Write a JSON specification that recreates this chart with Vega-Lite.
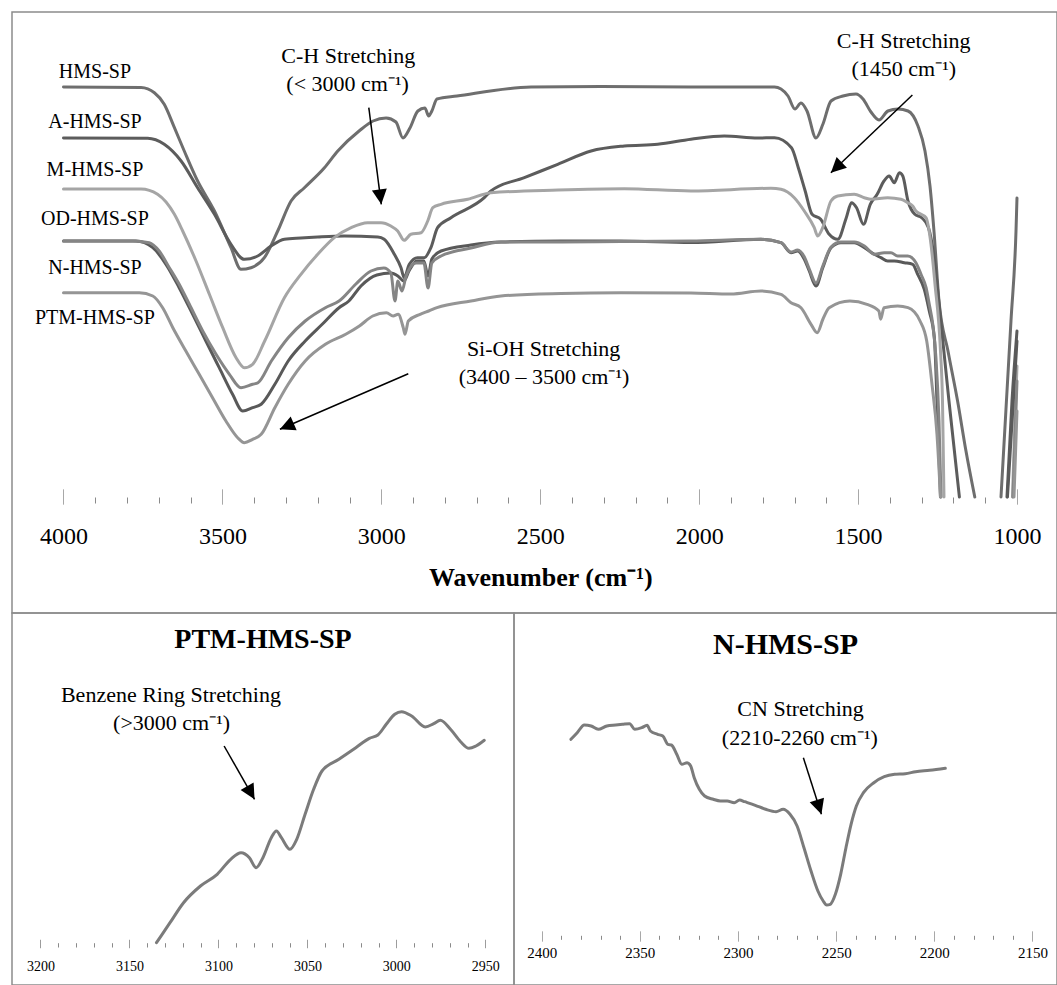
{
  "$schema": "https://vega.github.io/schema/vega-lite/v6.json",
  "description": "FTIR spectra of HMS-SP and its functionalised derivatives, with enlarged regions for PTM-HMS-SP and N-HMS-SP.",
  "background": "white",
  "padding": {"left": 11, "top": 11, "right": 0, "bottom": 0},
  "autosize": {"type": "pad"},
  "bounds": "flush",
  "spacing": 0,
  "config": {
    "view": {"stroke": "#8c8c8c", "strokeWidth": 1.5},
    "font": "Liberation Serif",
    "concat": {"spacing": 0}
  },
  "datasets": {
    "ftir": [
      {"sample":"HMS-SP","seg":1,"wn":4000,"T":410},{"sample":"HMS-SP","seg":1,"wn":3756,"T":409.5},{"sample":"HMS-SP","seg":1,"wn":3714,"T":404.3},{"sample":"HMS-SP","seg":1,"wn":3683,"T":392.7},{"sample":"HMS-SP","seg":1,"wn":3651,"T":369.3},{"sample":"HMS-SP","seg":1,"wn":3620,"T":346},{"sample":"HMS-SP","seg":1,"wn":3578,"T":316},{"sample":"HMS-SP","seg":1,"wn":3525,"T":286},{"sample":"HMS-SP","seg":1,"wn":3473,"T":249.3},{"sample":"HMS-SP","seg":1,"wn":3441.5,"T":227.7},{"sample":"HMS-SP","seg":1,"wn":3410,"T":229.3},{"sample":"HMS-SP","seg":1,"wn":3368,"T":239.3},{"sample":"HMS-SP","seg":1,"wn":3326,"T":266},{"sample":"HMS-SP","seg":1,"wn":3284,"T":296},{"sample":"HMS-SP","seg":1,"wn":3242,"T":309.3},{"sample":"HMS-SP","seg":1,"wn":3179,"T":329.3},{"sample":"HMS-SP","seg":1,"wn":3137,"T":346},{"sample":"HMS-SP","seg":1,"wn":3070,"T":366},{"sample":"HMS-SP","seg":1,"wn":3026,"T":376},{"sample":"HMS-SP","seg":1,"wn":2985,"T":379},{"sample":"HMS-SP","seg":1,"wn":2954,"T":375},{"sample":"HMS-SP","seg":1,"wn":2932,"T":359},{"sample":"HMS-SP","seg":1,"wn":2910,"T":369},{"sample":"HMS-SP","seg":1,"wn":2885,"T":386},{"sample":"HMS-SP","seg":1,"wn":2863,"T":389},{"sample":"HMS-SP","seg":1,"wn":2851,"T":381},{"sample":"HMS-SP","seg":1,"wn":2841,"T":386},{"sample":"HMS-SP","seg":1,"wn":2825,"T":398},{"sample":"HMS-SP","seg":1,"wn":2762,"T":401},{"sample":"HMS-SP","seg":1,"wn":2529,"T":410},{"sample":"HMS-SP","seg":1,"wn":2309,"T":410.5},{"sample":"HMS-SP","seg":1,"wn":2026,"T":410},{"sample":"HMS-SP","seg":1,"wn":1868,"T":410},{"sample":"HMS-SP","seg":1,"wn":1763,"T":410},{"sample":"HMS-SP","seg":1,"wn":1742.5,"T":408},{"sample":"HMS-SP","seg":1,"wn":1720.5,"T":401},{"sample":"HMS-SP","seg":1,"wn":1698.5,"T":388},{"sample":"HMS-SP","seg":1,"wn":1679.6,"T":394},{"sample":"HMS-SP","seg":1,"wn":1660.7,"T":386},{"sample":"HMS-SP","seg":1,"wn":1632.4,"T":359},{"sample":"HMS-SP","seg":1,"wn":1610.4,"T":373},{"sample":"HMS-SP","seg":1,"wn":1585.2,"T":396},{"sample":"HMS-SP","seg":1,"wn":1547.5,"T":401},{"sample":"HMS-SP","seg":1,"wn":1506.6,"T":403},{"sample":"HMS-SP","seg":1,"wn":1484.5,"T":398},{"sample":"HMS-SP","seg":1,"wn":1459.4,"T":385},{"sample":"HMS-SP","seg":1,"wn":1434.2,"T":377},{"sample":"HMS-SP","seg":1,"wn":1405.9,"T":386},{"sample":"HMS-SP","seg":1,"wn":1374.4,"T":388},{"sample":"HMS-SP","seg":1,"wn":1342.9,"T":386},{"sample":"HMS-SP","seg":1,"wn":1311.5,"T":371},{"sample":"HMS-SP","seg":1,"wn":1289.5,"T":346},{"sample":"HMS-SP","seg":1,"wn":1273.7,"T":311},{"sample":"HMS-SP","seg":1,"wn":1261.2,"T":266},{"sample":"HMS-SP","seg":1,"wn":1245.4,"T":196},{"sample":"HMS-SP","seg":1,"wn":1217.1,"T":146},{"sample":"HMS-SP","seg":1,"wn":1186.9,"T":96},{"sample":"HMS-SP","seg":1,"wn":1160.5,"T":46},{"sample":"HMS-SP","seg":1,"wn":1132.8,"T":0},
      {"sample":"HMS-SP","seg":2,"wn":1050.3,"T":0},{"sample":"HMS-SP","seg":2,"wn":1034.6,"T":88},{"sample":"HMS-SP","seg":2,"wn":1018.9,"T":176},{"sample":"HMS-SP","seg":2,"wn":1003.1,"T":266},{"sample":"HMS-SP","seg":2,"wn":1000,"T":299},

      {"sample":"A-HMS-SP","seg":1,"wn":4000,"T":359},{"sample":"A-HMS-SP","seg":1,"wn":3735,"T":358.7},{"sample":"A-HMS-SP","seg":1,"wn":3683,"T":352.7},{"sample":"A-HMS-SP","seg":1,"wn":3630,"T":336},{"sample":"A-HMS-SP","seg":1,"wn":3578,"T":309.3},{"sample":"A-HMS-SP","seg":1,"wn":3525,"T":282.7},{"sample":"A-HMS-SP","seg":1,"wn":3473,"T":252.7},{"sample":"A-HMS-SP","seg":1,"wn":3431,"T":237.7},{"sample":"A-HMS-SP","seg":1,"wn":3389,"T":241},{"sample":"A-HMS-SP","seg":1,"wn":3347,"T":251},{"sample":"A-HMS-SP","seg":1,"wn":3305,"T":257.7},{"sample":"A-HMS-SP","seg":1,"wn":3253,"T":259},{"sample":"A-HMS-SP","seg":1,"wn":3200,"T":260},{"sample":"A-HMS-SP","seg":1,"wn":3116.5,"T":261},{"sample":"A-HMS-SP","seg":1,"wn":3011,"T":260},{"sample":"A-HMS-SP","seg":1,"wn":2991,"T":257.7},{"sample":"A-HMS-SP","seg":1,"wn":2959,"T":242.7},{"sample":"A-HMS-SP","seg":1,"wn":2938,"T":229.3},{"sample":"A-HMS-SP","seg":1,"wn":2928,"T":219.3},{"sample":"A-HMS-SP","seg":1,"wn":2912,"T":232.7},{"sample":"A-HMS-SP","seg":1,"wn":2886,"T":239.3},{"sample":"A-HMS-SP","seg":1,"wn":2865,"T":239.3},{"sample":"A-HMS-SP","seg":1,"wn":2844,"T":249.3},{"sample":"A-HMS-SP","seg":1,"wn":2823,"T":269.3},{"sample":"A-HMS-SP","seg":1,"wn":2781,"T":279.3},{"sample":"A-HMS-SP","seg":1,"wn":2676,"T":299.3},{"sample":"A-HMS-SP","seg":1,"wn":2655,"T":306},{"sample":"A-HMS-SP","seg":1,"wn":2550,"T":319.3},{"sample":"A-HMS-SP","seg":1,"wn":2445,"T":332.7},{"sample":"A-HMS-SP","seg":1,"wn":2340,"T":346},{"sample":"A-HMS-SP","seg":1,"wn":2235.5,"T":351},{"sample":"A-HMS-SP","seg":1,"wn":2130.5,"T":352.7},{"sample":"A-HMS-SP","seg":1,"wn":2026,"T":357.7},{"sample":"A-HMS-SP","seg":1,"wn":1921,"T":361},{"sample":"A-HMS-SP","seg":1,"wn":1815,"T":359},{"sample":"A-HMS-SP","seg":1,"wn":1763,"T":359.3},{"sample":"A-HMS-SP","seg":1,"wn":1709.5,"T":349.3},{"sample":"A-HMS-SP","seg":1,"wn":1688,"T":329.3},{"sample":"A-HMS-SP","seg":1,"wn":1666.4,"T":306},{"sample":"A-HMS-SP","seg":1,"wn":1644.7,"T":282.7},{"sample":"A-HMS-SP","seg":1,"wn":1617.6,"T":277.7},{"sample":"A-HMS-SP","seg":1,"wn":1590.9,"T":262.7},{"sample":"A-HMS-SP","seg":1,"wn":1563.8,"T":257.7},{"sample":"A-HMS-SP","seg":1,"wn":1537.1,"T":279.3},{"sample":"A-HMS-SP","seg":1,"wn":1520.7,"T":294.3},{"sample":"A-HMS-SP","seg":1,"wn":1504.7,"T":289.3},{"sample":"A-HMS-SP","seg":1,"wn":1483,"T":272.7},{"sample":"A-HMS-SP","seg":1,"wn":1461.6,"T":292.7},{"sample":"A-HMS-SP","seg":1,"wn":1439.9,"T":302.7},{"sample":"A-HMS-SP","seg":1,"wn":1418.5,"T":316},{"sample":"A-HMS-SP","seg":1,"wn":1402.1,"T":321},{"sample":"A-HMS-SP","seg":1,"wn":1386.1,"T":314.3},{"sample":"A-HMS-SP","seg":1,"wn":1370,"T":324.3},{"sample":"A-HMS-SP","seg":1,"wn":1359.3,"T":321},{"sample":"A-HMS-SP","seg":1,"wn":1342.9,"T":296},{"sample":"A-HMS-SP","seg":1,"wn":1321.5,"T":282.7},{"sample":"A-HMS-SP","seg":1,"wn":1299.8,"T":279.3},{"sample":"A-HMS-SP","seg":1,"wn":1278.5,"T":269.3},{"sample":"A-HMS-SP","seg":1,"wn":1256.8,"T":229.3},{"sample":"A-HMS-SP","seg":1,"wn":1246,"T":196},{"sample":"A-HMS-SP","seg":1,"wn":1214,"T":96},{"sample":"A-HMS-SP","seg":1,"wn":1181.2,"T":0},
      {"sample":"A-HMS-SP","seg":2,"wn":1031.5,"T":0},{"sample":"A-HMS-SP","seg":2,"wn":1015.7,"T":96},{"sample":"A-HMS-SP","seg":2,"wn":1000,"T":166},

      {"sample":"M-HMS-SP","seg":1,"wn":4000,"T":308},{"sample":"M-HMS-SP","seg":1,"wn":3756,"T":308},{"sample":"M-HMS-SP","seg":1,"wn":3704,"T":302.7},{"sample":"M-HMS-SP","seg":1,"wn":3651,"T":282.7},{"sample":"M-HMS-SP","seg":1,"wn":3625,"T":266},{"sample":"M-HMS-SP","seg":1,"wn":3583,"T":236},{"sample":"M-HMS-SP","seg":1,"wn":3541,"T":202.7},{"sample":"M-HMS-SP","seg":1,"wn":3499,"T":169.3},{"sample":"M-HMS-SP","seg":1,"wn":3457,"T":139.3},{"sample":"M-HMS-SP","seg":1,"wn":3431,"T":129.3},{"sample":"M-HMS-SP","seg":1,"wn":3405,"T":132.7},{"sample":"M-HMS-SP","seg":1,"wn":3367,"T":156},{"sample":"M-HMS-SP","seg":1,"wn":3305,"T":199.3},{"sample":"M-HMS-SP","seg":1,"wn":3253,"T":222.7},{"sample":"M-HMS-SP","seg":1,"wn":3200,"T":242.7},{"sample":"M-HMS-SP","seg":1,"wn":3148,"T":259.3},{"sample":"M-HMS-SP","seg":1,"wn":3095,"T":269.3},{"sample":"M-HMS-SP","seg":1,"wn":3043,"T":274.3},{"sample":"M-HMS-SP","seg":1,"wn":3001,"T":274.3},{"sample":"M-HMS-SP","seg":1,"wn":2970,"T":271},{"sample":"M-HMS-SP","seg":1,"wn":2948.5,"T":266},{"sample":"M-HMS-SP","seg":1,"wn":2928,"T":256.7},{"sample":"M-HMS-SP","seg":1,"wn":2907,"T":262.7},{"sample":"M-HMS-SP","seg":1,"wn":2875,"T":264.3},{"sample":"M-HMS-SP","seg":1,"wn":2854,"T":276},{"sample":"M-HMS-SP","seg":1,"wn":2838,"T":289.3},{"sample":"M-HMS-SP","seg":1,"wn":2812,"T":292.7},{"sample":"M-HMS-SP","seg":1,"wn":2728,"T":297.7},{"sample":"M-HMS-SP","seg":1,"wn":2655,"T":304.3},{"sample":"M-HMS-SP","seg":1,"wn":2444,"T":307},{"sample":"M-HMS-SP","seg":1,"wn":2235.5,"T":308.3},{"sample":"M-HMS-SP","seg":1,"wn":2026,"T":306},{"sample":"M-HMS-SP","seg":1,"wn":1774,"T":308.7},{"sample":"M-HMS-SP","seg":1,"wn":1742.5,"T":307.7},{"sample":"M-HMS-SP","seg":1,"wn":1700.7,"T":299.3},{"sample":"M-HMS-SP","seg":1,"wn":1669.2,"T":286},{"sample":"M-HMS-SP","seg":1,"wn":1637.8,"T":269.3},{"sample":"M-HMS-SP","seg":1,"wn":1627.1,"T":261},{"sample":"M-HMS-SP","seg":1,"wn":1611.3,"T":269.3},{"sample":"M-HMS-SP","seg":1,"wn":1585.2,"T":296},{"sample":"M-HMS-SP","seg":1,"wn":1564.1,"T":301},{"sample":"M-HMS-SP","seg":1,"wn":1511.9,"T":302.7},{"sample":"M-HMS-SP","seg":1,"wn":1480.4,"T":299.3},{"sample":"M-HMS-SP","seg":1,"wn":1459.4,"T":297.7},{"sample":"M-HMS-SP","seg":1,"wn":1406.8,"T":299.3},{"sample":"M-HMS-SP","seg":1,"wn":1365,"T":297.7},{"sample":"M-HMS-SP","seg":1,"wn":1343.9,"T":294.3},{"sample":"M-HMS-SP","seg":1,"wn":1328.2,"T":291},{"sample":"M-HMS-SP","seg":1,"wn":1317.8,"T":286},{"sample":"M-HMS-SP","seg":1,"wn":1302,"T":282.7},{"sample":"M-HMS-SP","seg":1,"wn":1286.3,"T":279.3},{"sample":"M-HMS-SP","seg":1,"wn":1270.6,"T":252.7},{"sample":"M-HMS-SP","seg":1,"wn":1258,"T":213},{"sample":"M-HMS-SP","seg":1,"wn":1240.7,"T":146},{"sample":"M-HMS-SP","seg":1,"wn":1234.4,"T":96},{"sample":"M-HMS-SP","seg":1,"wn":1229.7,"T":0},
      {"sample":"M-HMS-SP","seg":2,"wn":1014.2,"T":0},{"sample":"M-HMS-SP","seg":2,"wn":1006.3,"T":76},{"sample":"M-HMS-SP","seg":2,"wn":1000,"T":131},

      {"sample":"OD-HMS-SP","seg":1,"wn":4000,"T":256},{"sample":"OD-HMS-SP","seg":1,"wn":3772,"T":256},{"sample":"OD-HMS-SP","seg":1,"wn":3719,"T":249.3},{"sample":"OD-HMS-SP","seg":1,"wn":3677.5,"T":232.7},{"sample":"OD-HMS-SP","seg":1,"wn":3636,"T":209.3},{"sample":"OD-HMS-SP","seg":1,"wn":3593.5,"T":182.7},{"sample":"OD-HMS-SP","seg":1,"wn":3552,"T":156},{"sample":"OD-HMS-SP","seg":1,"wn":3510,"T":129.3},{"sample":"OD-HMS-SP","seg":1,"wn":3468,"T":102.7},{"sample":"OD-HMS-SP","seg":1,"wn":3436,"T":86},{"sample":"OD-HMS-SP","seg":1,"wn":3405,"T":89.3},{"sample":"OD-HMS-SP","seg":1,"wn":3378,"T":92.7},{"sample":"OD-HMS-SP","seg":1,"wn":3335,"T":112.7},{"sample":"OD-HMS-SP","seg":1,"wn":3293,"T":136},{"sample":"OD-HMS-SP","seg":1,"wn":3239.5,"T":156},{"sample":"OD-HMS-SP","seg":1,"wn":3186,"T":172.7},{"sample":"OD-HMS-SP","seg":1,"wn":3133,"T":189.3},{"sample":"OD-HMS-SP","seg":1,"wn":3102,"T":196},{"sample":"OD-HMS-SP","seg":1,"wn":3064,"T":211},{"sample":"OD-HMS-SP","seg":1,"wn":3014,"T":222},{"sample":"OD-HMS-SP","seg":1,"wn":2970,"T":224},{"sample":"OD-HMS-SP","seg":1,"wn":2948,"T":221},{"sample":"OD-HMS-SP","seg":1,"wn":2929,"T":216},{"sample":"OD-HMS-SP","seg":1,"wn":2913,"T":226},{"sample":"OD-HMS-SP","seg":1,"wn":2888,"T":236},{"sample":"OD-HMS-SP","seg":1,"wn":2866,"T":236},{"sample":"OD-HMS-SP","seg":1,"wn":2853,"T":221},{"sample":"OD-HMS-SP","seg":1,"wn":2841,"T":238},{"sample":"OD-HMS-SP","seg":1,"wn":2812,"T":246},{"sample":"OD-HMS-SP","seg":1,"wn":2718,"T":252},{"sample":"OD-HMS-SP","seg":1,"wn":2623.5,"T":255},{"sample":"OD-HMS-SP","seg":1,"wn":2435,"T":256},{"sample":"OD-HMS-SP","seg":1,"wn":2246,"T":256},{"sample":"OD-HMS-SP","seg":1,"wn":2026,"T":254.5},{"sample":"OD-HMS-SP","seg":1,"wn":1805.5,"T":257.7},{"sample":"OD-HMS-SP","seg":1,"wn":1742.5,"T":254.3},{"sample":"OD-HMS-SP","seg":1,"wn":1711,"T":244.3},{"sample":"OD-HMS-SP","seg":1,"wn":1690,"T":246},{"sample":"OD-HMS-SP","seg":1,"wn":1669,"T":237.7},{"sample":"OD-HMS-SP","seg":1,"wn":1653.5,"T":226},{"sample":"OD-HMS-SP","seg":1,"wn":1632.4,"T":211},{"sample":"OD-HMS-SP","seg":1,"wn":1611,"T":229.3},{"sample":"OD-HMS-SP","seg":1,"wn":1585,"T":249.3},{"sample":"OD-HMS-SP","seg":1,"wn":1554,"T":254.3},{"sample":"OD-HMS-SP","seg":1,"wn":1512,"T":254.3},{"sample":"OD-HMS-SP","seg":1,"wn":1480,"T":249.3},{"sample":"OD-HMS-SP","seg":1,"wn":1449,"T":242.7},{"sample":"OD-HMS-SP","seg":1,"wn":1428,"T":239.3},{"sample":"OD-HMS-SP","seg":1,"wn":1407,"T":236},{"sample":"OD-HMS-SP","seg":1,"wn":1386,"T":236},{"sample":"OD-HMS-SP","seg":1,"wn":1354.6,"T":234.3},{"sample":"OD-HMS-SP","seg":1,"wn":1328,"T":232.7},{"sample":"OD-HMS-SP","seg":1,"wn":1312.4,"T":222.7},{"sample":"OD-HMS-SP","seg":1,"wn":1291.7,"T":207.7},{"sample":"OD-HMS-SP","seg":1,"wn":1276,"T":186},{"sample":"OD-HMS-SP","seg":1,"wn":1260,"T":159.3},{"sample":"OD-HMS-SP","seg":1,"wn":1251.7,"T":96},{"sample":"OD-HMS-SP","seg":1,"wn":1240.7,"T":0},
      {"sample":"OD-HMS-SP","seg":2,"wn":1030,"T":0},{"sample":"OD-HMS-SP","seg":2,"wn":1000,"T":156},

      {"sample":"N-HMS-SP","seg":1,"wn":4000,"T":256},{"sample":"N-HMS-SP","seg":1,"wn":3782,"T":256},{"sample":"N-HMS-SP","seg":1,"wn":3730,"T":254.3},{"sample":"N-HMS-SP","seg":1,"wn":3699,"T":246},{"sample":"N-HMS-SP","seg":1,"wn":3667,"T":229.3},{"sample":"N-HMS-SP","seg":1,"wn":3636,"T":212.7},{"sample":"N-HMS-SP","seg":1,"wn":3604,"T":192.7},{"sample":"N-HMS-SP","seg":1,"wn":3562,"T":166},{"sample":"N-HMS-SP","seg":1,"wn":3520,"T":142.7},{"sample":"N-HMS-SP","seg":1,"wn":3478,"T":122.7},{"sample":"N-HMS-SP","seg":1,"wn":3441.5,"T":109.3},{"sample":"N-HMS-SP","seg":1,"wn":3405,"T":112.7},{"sample":"N-HMS-SP","seg":1,"wn":3388,"T":114.3},{"sample":"N-HMS-SP","seg":1,"wn":3346,"T":136},{"sample":"N-HMS-SP","seg":1,"wn":3293,"T":159.3},{"sample":"N-HMS-SP","seg":1,"wn":3239.5,"T":176},{"sample":"N-HMS-SP","seg":1,"wn":3176,"T":189.3},{"sample":"N-HMS-SP","seg":1,"wn":3133,"T":196},{"sample":"N-HMS-SP","seg":1,"wn":3080,"T":213},{"sample":"N-HMS-SP","seg":1,"wn":3032.5,"T":226},{"sample":"N-HMS-SP","seg":1,"wn":2992,"T":229},{"sample":"N-HMS-SP","seg":1,"wn":2970,"T":224},{"sample":"N-HMS-SP","seg":1,"wn":2957,"T":196},{"sample":"N-HMS-SP","seg":1,"wn":2948,"T":216},{"sample":"N-HMS-SP","seg":1,"wn":2935,"T":206},{"sample":"N-HMS-SP","seg":1,"wn":2922,"T":221},{"sample":"N-HMS-SP","seg":1,"wn":2891,"T":234},{"sample":"N-HMS-SP","seg":1,"wn":2866,"T":234},{"sample":"N-HMS-SP","seg":1,"wn":2853,"T":209},{"sample":"N-HMS-SP","seg":1,"wn":2841,"T":234},{"sample":"N-HMS-SP","seg":1,"wn":2812,"T":241},{"sample":"N-HMS-SP","seg":1,"wn":2718,"T":249},{"sample":"N-HMS-SP","seg":1,"wn":2623.5,"T":255},{"sample":"N-HMS-SP","seg":1,"wn":2435,"T":255},{"sample":"N-HMS-SP","seg":1,"wn":2246,"T":255.5},{"sample":"N-HMS-SP","seg":1,"wn":2026,"T":256},{"sample":"N-HMS-SP","seg":1,"wn":1805.5,"T":257.7},{"sample":"N-HMS-SP","seg":1,"wn":1742.5,"T":254.3},{"sample":"N-HMS-SP","seg":1,"wn":1711,"T":245},{"sample":"N-HMS-SP","seg":1,"wn":1690,"T":247},{"sample":"N-HMS-SP","seg":1,"wn":1669,"T":240},{"sample":"N-HMS-SP","seg":1,"wn":1653.5,"T":228},{"sample":"N-HMS-SP","seg":1,"wn":1632.4,"T":214},{"sample":"N-HMS-SP","seg":1,"wn":1611,"T":231},{"sample":"N-HMS-SP","seg":1,"wn":1585,"T":250},{"sample":"N-HMS-SP","seg":1,"wn":1554,"T":255},{"sample":"N-HMS-SP","seg":1,"wn":1512,"T":255},{"sample":"N-HMS-SP","seg":1,"wn":1480,"T":251},{"sample":"N-HMS-SP","seg":1,"wn":1449,"T":242.7},{"sample":"N-HMS-SP","seg":1,"wn":1417.5,"T":244.3},{"sample":"N-HMS-SP","seg":1,"wn":1396.4,"T":244.3},{"sample":"N-HMS-SP","seg":1,"wn":1375.4,"T":241},{"sample":"N-HMS-SP","seg":1,"wn":1344,"T":241},{"sample":"N-HMS-SP","seg":1,"wn":1318,"T":234.3},{"sample":"N-HMS-SP","seg":1,"wn":1302,"T":222.7},{"sample":"N-HMS-SP","seg":1,"wn":1286,"T":209.3},{"sample":"N-HMS-SP","seg":1,"wn":1276,"T":192.7},{"sample":"N-HMS-SP","seg":1,"wn":1265,"T":172.7},{"sample":"N-HMS-SP","seg":1,"wn":1255,"T":139.3},{"sample":"N-HMS-SP","seg":1,"wn":1245.4,"T":76},{"sample":"N-HMS-SP","seg":1,"wn":1239,"T":0},
      {"sample":"N-HMS-SP","seg":2,"wn":1012.6,"T":0},{"sample":"N-HMS-SP","seg":2,"wn":1000,"T":116},

      {"sample":"PTM-HMS-SP","seg":1,"wn":4000,"T":204.3},{"sample":"PTM-HMS-SP","seg":1,"wn":3761.5,"T":204.3},{"sample":"PTM-HMS-SP","seg":1,"wn":3719,"T":201},{"sample":"PTM-HMS-SP","seg":1,"wn":3688,"T":189.3},{"sample":"PTM-HMS-SP","seg":1,"wn":3656,"T":169.3},{"sample":"PTM-HMS-SP","seg":1,"wn":3615,"T":146},{"sample":"PTM-HMS-SP","seg":1,"wn":3573,"T":122.7},{"sample":"PTM-HMS-SP","seg":1,"wn":3531,"T":99.3},{"sample":"PTM-HMS-SP","seg":1,"wn":3489,"T":76},{"sample":"PTM-HMS-SP","seg":1,"wn":3452,"T":59.3},{"sample":"PTM-HMS-SP","seg":1,"wn":3431,"T":54.3},{"sample":"PTM-HMS-SP","seg":1,"wn":3405,"T":57.7},{"sample":"PTM-HMS-SP","seg":1,"wn":3378,"T":62.7},{"sample":"PTM-HMS-SP","seg":1,"wn":3335,"T":89.3},{"sample":"PTM-HMS-SP","seg":1,"wn":3293,"T":112.7},{"sample":"PTM-HMS-SP","seg":1,"wn":3239.5,"T":136},{"sample":"PTM-HMS-SP","seg":1,"wn":3176,"T":152.7},{"sample":"PTM-HMS-SP","seg":1,"wn":3112,"T":162.7},{"sample":"PTM-HMS-SP","seg":1,"wn":3069,"T":171},{"sample":"PTM-HMS-SP","seg":1,"wn":3027,"T":181},{"sample":"PTM-HMS-SP","seg":1,"wn":2984,"T":184.3},{"sample":"PTM-HMS-SP","seg":1,"wn":2963,"T":181},{"sample":"PTM-HMS-SP","seg":1,"wn":2947,"T":182.7},{"sample":"PTM-HMS-SP","seg":1,"wn":2931,"T":169.3},{"sample":"PTM-HMS-SP","seg":1,"wn":2925.5,"T":162.7},{"sample":"PTM-HMS-SP","seg":1,"wn":2915,"T":176},{"sample":"PTM-HMS-SP","seg":1,"wn":2878,"T":182.7},{"sample":"PTM-HMS-SP","seg":1,"wn":2851,"T":186},{"sample":"PTM-HMS-SP","seg":1,"wn":2825,"T":189.3},{"sample":"PTM-HMS-SP","seg":1,"wn":2718,"T":196},{"sample":"PTM-HMS-SP","seg":1,"wn":2623.5,"T":201},{"sample":"PTM-HMS-SP","seg":1,"wn":2435,"T":203.5},{"sample":"PTM-HMS-SP","seg":1,"wn":2246,"T":204.3},{"sample":"PTM-HMS-SP","seg":1,"wn":2026,"T":204},{"sample":"PTM-HMS-SP","seg":1,"wn":1900,"T":203},{"sample":"PTM-HMS-SP","seg":1,"wn":1805.5,"T":206},{"sample":"PTM-HMS-SP","seg":1,"wn":1742.5,"T":202.7},{"sample":"PTM-HMS-SP","seg":1,"wn":1711,"T":194.3},{"sample":"PTM-HMS-SP","seg":1,"wn":1679.6,"T":189.3},{"sample":"PTM-HMS-SP","seg":1,"wn":1648,"T":172.7},{"sample":"PTM-HMS-SP","seg":1,"wn":1628.6,"T":164.3},{"sample":"PTM-HMS-SP","seg":1,"wn":1610.4,"T":178},{"sample":"PTM-HMS-SP","seg":1,"wn":1590.9,"T":189.3},{"sample":"PTM-HMS-SP","seg":1,"wn":1526,"T":196},{"sample":"PTM-HMS-SP","seg":1,"wn":1472,"T":192.7},{"sample":"PTM-HMS-SP","seg":1,"wn":1434.5,"T":186},{"sample":"PTM-HMS-SP","seg":1,"wn":1429,"T":177.7},{"sample":"PTM-HMS-SP","seg":1,"wn":1418.5,"T":189.3},{"sample":"PTM-HMS-SP","seg":1,"wn":1375.4,"T":191},{"sample":"PTM-HMS-SP","seg":1,"wn":1342.9,"T":189.3},{"sample":"PTM-HMS-SP","seg":1,"wn":1305,"T":176},{"sample":"PTM-HMS-SP","seg":1,"wn":1284,"T":156},{"sample":"PTM-HMS-SP","seg":1,"wn":1267.4,"T":112.7},{"sample":"PTM-HMS-SP","seg":1,"wn":1251.7,"T":62.7},{"sample":"PTM-HMS-SP","seg":1,"wn":1240.7,"T":0},
      {"sample":"PTM-HMS-SP","seg":2,"wn":1009.4,"T":0},{"sample":"PTM-HMS-SP","seg":2,"wn":1000,"T":86}
    ],
    "ptmZoom": [
      {"wn":3134.8,"T":0},{"wn":3127.2,"T":20},{"wn":3119.6,"T":40},{"wn":3110.1,"T":56.7},{"wn":3100.7,"T":68.4},{"wn":3093.1,"T":83.4},{"wn":3087.3,"T":90},{"wn":3082.6,"T":85},{"wn":3078.8,"T":75},{"wn":3075,"T":85},{"wn":3070.3,"T":105},{"wn":3067.4,"T":111.7},{"wn":3064.6,"T":105},{"wn":3059.8,"T":93.4},{"wn":3056,"T":103.4},{"wn":3051.3,"T":128.4},{"wn":3046.5,"T":153.4},{"wn":3041.8,"T":171.7},{"wn":3032.3,"T":183.4},{"wn":3022.8,"T":195},{"wn":3015.2,"T":204.4},{"wn":3010.4,"T":207.7},{"wn":3005.7,"T":218.4},{"wn":3000.9,"T":228.4},{"wn":2997.1,"T":231},{"wn":2991.4,"T":226.7},{"wn":2983.8,"T":215.7},{"wn":2979,"T":219},{"wn":2975.3,"T":222.4},{"wn":2969.6,"T":213.4},{"wn":2963.9,"T":201},{"wn":2959.2,"T":194.4},{"wn":2955.3,"T":196.7},{"wn":2950.6,"T":202.4}
    ],
    "nZoom": [
      {"wn":2385.1,"T":196},{"wn":2381.9,"T":202.6},{"wn":2378.3,"T":210.3},{"wn":2374.8,"T":209.3},{"wn":2371.2,"T":206},{"wn":2366.8,"T":209.3},{"wn":2362.3,"T":210.3},{"wn":2358.8,"T":211},{"wn":2355.2,"T":211.6},{"wn":2352.6,"T":206},{"wn":2349,"T":207.6},{"wn":2346.3,"T":210},{"wn":2344.6,"T":204.3},{"wn":2341,"T":201},{"wn":2338.3,"T":199.3},{"wn":2335.7,"T":191},{"wn":2333.9,"T":190.3},{"wn":2331.2,"T":181},{"wn":2328.6,"T":171},{"wn":2325.9,"T":172.6},{"wn":2324.1,"T":169.3},{"wn":2322.3,"T":157.6},{"wn":2319.7,"T":146},{"wn":2317,"T":139.3},{"wn":2312.6,"T":136},{"wn":2309,"T":134.3},{"wn":2305.5,"T":134.3},{"wn":2301.9,"T":132.6},{"wn":2299.2,"T":135.3},{"wn":2296.6,"T":133.6},{"wn":2291.2,"T":130},{"wn":2285.9,"T":126},{"wn":2280.6,"T":123.6},{"wn":2277,"T":126},{"wn":2273.5,"T":121},{"wn":2269.9,"T":109.3},{"wn":2266.4,"T":87.6},{"wn":2262.8,"T":64.3},{"wn":2259.3,"T":44.3},{"wn":2256.6,"T":34.3},{"wn":2254.8,"T":30.3},{"wn":2253,"T":31},{"wn":2250.4,"T":41},{"wn":2247.7,"T":61},{"wn":2245,"T":87.6},{"wn":2242.4,"T":111},{"wn":2239.7,"T":129.3},{"wn":2236.1,"T":142.6},{"wn":2230.8,"T":152.6},{"wn":2225.5,"T":158.6},{"wn":2220.2,"T":161},{"wn":2214.8,"T":161.6},{"wn":2209.5,"T":163.6},{"wn":2202.4,"T":165},{"wn":2194.4,"T":167}
    ]
  },
  "vconcat": [
    {
      "width": 1045,
      "height": 601,
      "encoding": {
        "x": {
          "field": "wn", "type": "quantitative",
          "scale": {"domain": [874.1, 4162], "reverse": true, "nice": false, "zero": false},
          "axis": {
            "values": [4000,3900,3800,3700,3600,3500,3400,3300,3200,3100,3000,2900,2800,2700,2600,2500,2400,2300,2200,2100,2000,1900,1800,1700,1600,1500,1400,1300,1200,1100,1000],
            "domain": false, "grid": false, "offset": -124,
            "tickColor": "#8a8a8a", "tickWidth": 1, "tickSize": 15,
            "tickDash": {"condition": {"test": "datum.value % 500 !== 0", "value": [0.01, 8, 6, 100]}, "value": [1, 0]},
            "labelExpr": "datum.value % 500 === 0 ? format(datum.value, 'd') : ''",
            "labelFont": "Liberation Serif", "labelFontSize": 24, "labelColor": "black", "labelPadding": 20,
            "labelOverlap": false, "labelFlush": false, "labelBound": false,
            "title": "Wavenumber (cm⁻¹)", "titleFont": "Liberation Serif", "titleFontSize": 26, "titleFontWeight": "bold", "titleColor": "black",
            "titleX": 528.3, "titleY": 88, "titleAlign": "center", "titleBaseline": "middle"
          }
        },
        "y": {"field": "T", "type": "quantitative", "scale": {"domain": [-116, 485], "nice": false, "zero": false}, "axis": null}
      },
      "layer": [
        {
          "data": {"values": [{}]},
          "mark": {"type": "rule", "color": "#8a8a8a", "strokeWidth": 1},
          "encoding": {"x": {"datum": 4000}, "x2": {"datum": 1000}, "y": {"datum": 0}}
        },
        {
          "data": {"values": [{}]},
          "mark": {"type": "rule", "color": "#8a8a8a", "strokeWidth": 1.5},
          "encoding": {"x": {"datum": 1000}, "y": {"datum": 0}, "y2": {"datum": 462}}
        },
        {
          "data": {"name": "ftir"},
          "mark": {"type": "line", "interpolate": "monotone", "strokeWidth": 3, "strokeCap": "round", "strokeJoin": "round"},
          "encoding": {
            "color": {
              "field": "sample", "type": "nominal",
              "scale": {"domain": ["HMS-SP", "A-HMS-SP", "M-HMS-SP", "OD-HMS-SP", "N-HMS-SP", "PTM-HMS-SP"], "range": ["#6e6e6e", "#5c5c5c", "#a5a5a5", "#595959", "#858585", "#959595"]},
              "legend": null
            },
            "detail": {"field": "seg"}
          }
        },
        {
          "data": {"values": [
            {"label": "HMS-SP", "wn": 3901, "T": 425},
            {"label": "A-HMS-SP", "wn": 3901, "T": 375},
            {"label": "M-HMS-SP", "wn": 3901, "T": 327},
            {"label": "OD-HMS-SP", "wn": 3901, "T": 278},
            {"label": "N-HMS-SP", "wn": 3901, "T": 229.3},
            {"label": "PTM-HMS-SP", "wn": 3901, "T": 179.3}
          ]},
          "mark": {"type": "text", "font": "Liberation Serif", "fontSize": 20, "color": "black", "align": "center", "baseline": "middle"},
          "encoding": {"text": {"field": "label"}}
        },
        {
          "data": {"values": [
            {"label": "C-H Stretching", "wn": 3104, "T": 441},
            {"label": "(< 3000 cm⁻¹)", "wn": 3106, "T": 412.7},
            {"label": "C-H Stretching", "wn": 1356.5, "T": 456},
            {"label": "(1450 cm⁻¹)", "wn": 1356, "T": 427.7},
            {"label": "Si-OH Stretching", "wn": 2489.5, "T": 148.3},
            {"label": "(3400 – 3500 cm⁻¹)", "wn": 2488, "T": 120}
          ]},
          "mark": {"type": "text", "font": "Liberation Serif", "fontSize": 22, "color": "black", "align": "center", "baseline": "middle"},
          "encoding": {"text": {"field": "label"}}
        },
        {
          "data": {"values": [
            {"wn": 3039.4, "T": 389.3, "wn2": 3000.1, "T2": 292.7, "angle": 172.6},
            {"wn": 1329.1, "T": 402, "wn2": 1585.5, "T2": 324.3, "angle": 226.4},
            {"wn": 2915.2, "T": 123.3, "wn2": 3319.1, "T2": 67.7, "angle": 246.6}
          ]},
          "layer": [
            {
              "mark": {"type": "rule", "color": "black", "strokeWidth": 1.5},
              "encoding": {"x2": {"field": "wn2"}, "y2": {"field": "T2"}}
            },
            {
              "mark": {"type": "point", "shape": "M0,0L-0.5,1L0.5,1Z", "filled": true, "color": "black", "opacity": 1, "size": 900, "strokeWidth": 0},
              "encoding": {
                "x": {"field": "wn2", "type": "quantitative"},
                "y": {"field": "T2", "type": "quantitative"},
                "angle": {"field": "angle", "type": "quantitative", "scale": null}
              }
            }
          ]
        }
      ]
    },
    {
      "bounds": "flush",
      "spacing": 0,
      "hconcat": [
        {
          "width": 502,
          "height": 372,
          "title": {"text": "PTM-HMS-SP", "font": "Liberation Serif", "fontSize": 28, "fontWeight": "bold", "color": "black", "anchor": "middle", "frame": "group", "offset": -41},
          "encoding": {
            "x": {
              "field": "wn", "type": "quantitative",
              "scale": {"domain": [2933.9, 3216], "reverse": true, "nice": false, "zero": false},
              "axis": {
                "values": [3200,3190,3180,3170,3160,3150,3140,3130,3120,3110,3100,3090,3080,3070,3060,3050,3040,3030,3020,3010,3000,2990,2980,2970,2960,2950],
                "domain": false, "grid": false, "offset": -45.7,
                "tickColor": "#8a8a8a", "tickWidth": 1, "tickSize": 8.4,
                "tickDash": {"condition": {"test": "datum.value % 50 !== 0", "value": [0.01, 3.4, 4.3, 100]}, "value": [1, 0]},
                "labelExpr": "datum.value % 50 === 0 ? format(datum.value, 'd') : ''",
                "labelFont": "Liberation Serif", "labelFontSize": 14, "labelColor": "black", "labelPadding": 11.3,
                "labelOverlap": false, "labelFlush": false, "labelBound": false,
                "title": null
              }
            },
            "y": {"field": "T", "type": "quantitative", "scale": {"domain": [-42.3, 329.7], "nice": false, "zero": false}, "axis": null}
          },
          "layer": [
            {
              "data": {"values": [{}]},
              "mark": {"type": "rule", "color": "#8a8a8a", "strokeWidth": 1},
              "encoding": {"x": {"datum": 3200}, "x2": {"datum": 2950}, "y": {"datum": 0}}
            },
            {
              "data": {"values": [{}]},
              "mark": {"type": "rule", "color": "#9a9a9a", "strokeWidth": 1},
              "encoding": {"x": {"datum": 2950}, "y": {"datum": 0}, "y2": {"datum": 270}}
            },
            {
              "data": {"name": "ptmZoom"},
              "mark": {"type": "line", "interpolate": "monotone", "color": "#7b7b7b", "strokeWidth": 3, "strokeCap": "round", "strokeJoin": "round"}
            },
            {
              "data": {"values": [
                {"label": "Benzene Ring Stretching", "wn": 3126.7, "T": 247.4},
                {"label": "(>3000 cm⁻¹)", "wn": 3126.3, "T": 220}
              ]},
              "mark": {"type": "text", "font": "Liberation Serif", "fontSize": 22, "color": "black", "align": "center", "baseline": "middle"},
              "encoding": {"text": {"field": "label"}}
            },
            {
              "data": {"values": [{"wn": 3096.8, "T": 196.7, "wn2": 3079.7, "T2": 143.4, "angle": 150.3}]},
              "layer": [
                {
                  "mark": {"type": "rule", "color": "black", "strokeWidth": 1.5},
                  "encoding": {"x2": {"field": "wn2"}, "y2": {"field": "T2"}}
                },
                {
                  "mark": {"type": "point", "shape": "M0,0L-0.5,1L0.5,1Z", "filled": true, "color": "black", "opacity": 1, "size": 900, "strokeWidth": 0},
                  "encoding": {
                    "x": {"field": "wn2", "type": "quantitative"},
                    "y": {"field": "T2", "type": "quantitative"},
                    "angle": {"field": "angle", "type": "quantitative", "scale": null}
                  }
                }
              ]
            }
          ]
        },
        {
          "width": 543,
          "height": 372,
          "title": {"text": "N-HMS-SP", "font": "Liberation Serif", "fontSize": 30, "fontWeight": "bold", "color": "black", "anchor": "middle", "frame": "group", "offset": -47},
          "encoding": {
            "x": {
              "field": "wn", "type": "quantitative",
              "scale": {"domain": [2137.5, 2414.1], "reverse": true, "nice": false, "zero": false},
              "axis": {
                "values": [2400,2390,2380,2370,2360,2350,2340,2330,2320,2310,2300,2290,2280,2270,2260,2250,2240,2230,2220,2210,2200,2190,2180,2170,2160,2150],
                "domain": false, "grid": false, "offset": -54,
                "tickColor": "#8a8a8a", "tickWidth": 1, "tickSize": 10,
                "tickDash": {"condition": {"test": "datum.value % 50 !== 0", "value": [0.01, 4.3, 4, 100]}, "value": [1, 0]},
                "labelExpr": "datum.value % 50 === 0 ? format(datum.value, 'd') : ''",
                "labelFont": "Liberation Serif", "labelFontSize": 15, "labelColor": "black", "labelPadding": 4.9,
                "labelOverlap": false, "labelFlush": false, "labelBound": false,
                "title": null
              }
            },
            "y": {"field": "T", "type": "quantitative", "scale": {"domain": [-49.7, 322.3], "nice": false, "zero": false}, "axis": null}
          },
          "layer": [
            {
              "data": {"values": [{}]},
              "mark": {"type": "rule", "color": "#8a8a8a", "strokeWidth": 1},
              "encoding": {"x": {"datum": 2400}, "x2": {"datum": 2150}, "y": {"datum": 0}}
            },
            {
              "data": {"name": "nZoom"},
              "mark": {"type": "line", "interpolate": "monotone", "color": "#7b7b7b", "strokeWidth": 3, "strokeCap": "round", "strokeJoin": "round"}
            },
            {
              "data": {"values": [
                {"label": "CN Stretching", "wn": 2268.1, "T": 226},
                {"label": "(2210-2260 cm⁻¹)", "wn": 2268.5, "T": 197.6}
              ]},
              "mark": {"type": "text", "font": "Liberation Serif", "fontSize": 22, "color": "black", "align": "center", "baseline": "middle"},
              "encoding": {"text": {"field": "label"}}
            },
            {
              "data": {"values": [{"wn": 2266.7, "T": 177.6, "wn2": 2257.5, "T2": 121, "angle": 162.2}]},
              "layer": [
                {
                  "mark": {"type": "rule", "color": "black", "strokeWidth": 1.5},
                  "encoding": {"x2": {"field": "wn2"}, "y2": {"field": "T2"}}
                },
                {
                  "mark": {"type": "point", "shape": "M0,0L-0.5,1L0.5,1Z", "filled": true, "color": "black", "opacity": 1, "size": 900, "strokeWidth": 0},
                  "encoding": {
                    "x": {"field": "wn2", "type": "quantitative"},
                    "y": {"field": "T2", "type": "quantitative"},
                    "angle": {"field": "angle", "type": "quantitative", "scale": null}
                  }
                }
              ]
            }
          ]
        }
      ]
    }
  ]
}
